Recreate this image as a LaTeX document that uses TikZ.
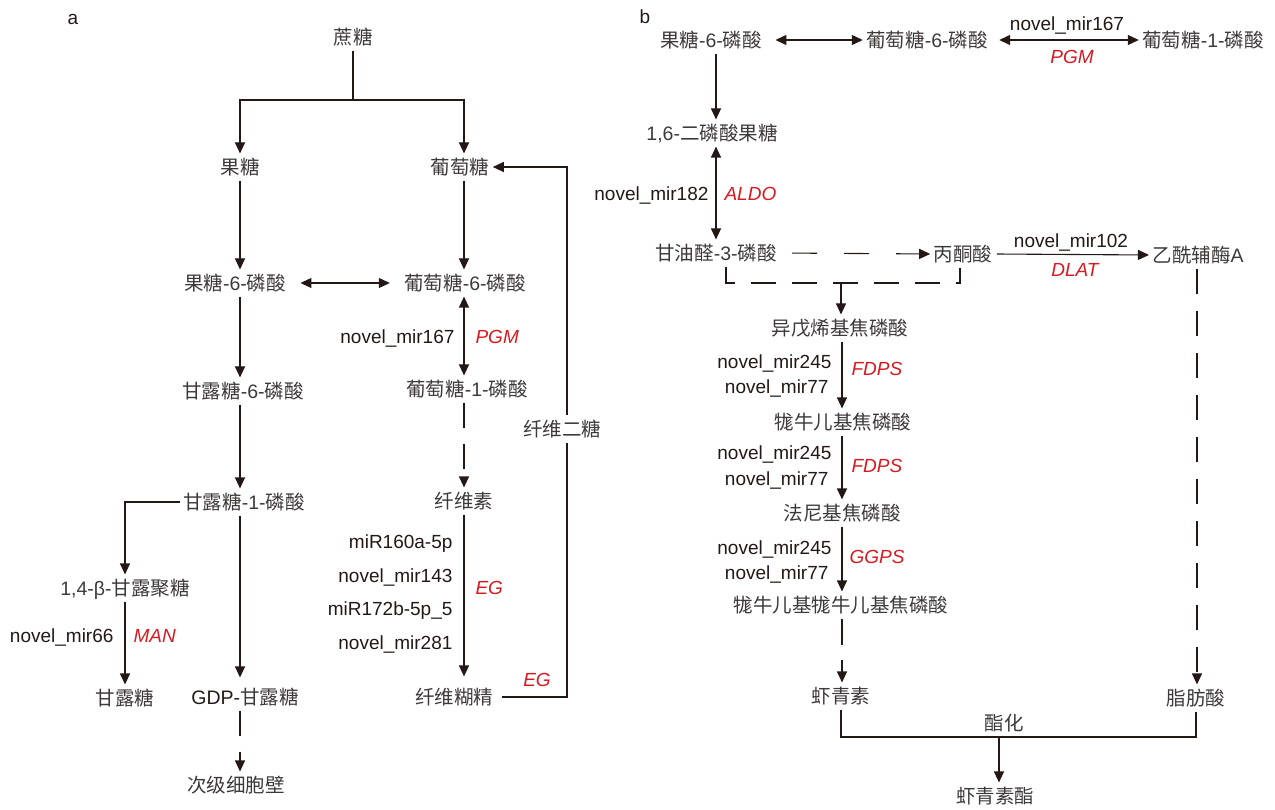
\documentclass[tikz,border=0pt]{standalone}
\usepackage{fontspec}
\setmainfont{Liberation Sans}
\newfontfamily\cjk{Noto Sans CJK SC}
\newfontfamily\latf{Liberation Sans}
\newcommand\lnum[1]{{\latf #1}}
\usetikzlibrary{arrows.meta}
\definecolor{ink}{RGB}{35,24,21}
\definecolor{cjkc}{RGB}{62,57,57}
\definecolor{enzc}{RGB}{215,25,32}
\tikzset{
  chem/.style={font=\cjk\fontsize{19.5}{21}\selectfont, text=cjkc, inner xsep=3pt, inner ysep=0pt, text height=20.4pt, text depth=5.6pt},
  mir/.style={font=\fontsize{19}{21}\selectfont, text=ink, inner sep=0pt, text height=15pt, text depth=2pt},
  enz/.style={font=\fontsize{19}{21}\selectfont\itshape, text=enzc, inner sep=0pt, text height=15pt, text depth=2pt},
  arr/.style={-{Triangle[length=11pt,width=10pt]}},
  darr/.style={{Triangle[length=11pt,width=10pt]}-{Triangle[length=11pt,width=10pt]}},
  dsh/.style={dash pattern=on 25pt off 16pt},
}
\begin{document}
\begin{tikzpicture}[x=1pt,y=-1pt,color=ink,line width=1.1pt]
\useasboundingbox (0,0) rectangle (1275,810);
% ---------- panel a ----------
\node[mir] (pa) at (73,18) {a};
\coordinate (colA) at (240,0);
\coordinate (colB) at (464,0);
\coordinate (colC) at (567,0);
\coordinate (j1) at (353,100);
\node[chem] (suc) at (353,37) {蔗糖};
\node[chem] (fru) at (240,167) {果糖};
\node[chem] (glc) at (460,167) {葡萄糖};
\node[chem] (f6p) at (235,283) {果糖\lnum{-6-}磷酸};
\node[chem] (g6p) at (465,283) {葡萄糖\lnum{-6-}磷酸};
\node[chem] (m6p) at (243,391) {甘露糖\lnum{-6-}磷酸};
\node[chem] (g1p) at (467,389) {葡萄糖\lnum{-1-}磷酸};
\node[chem] (cb) at (562,429) {纤维二糖};
\node[chem] (m1p) at (244,502) {甘露糖\lnum{-1-}磷酸};
\node[chem] (cel) at (464,501) {纤维素};
\node[chem] (mann) at (125,588) {\lnum{1,4-β-}甘露聚糖};
\node[chem] (man) at (125,698) {甘露糖};
\node[chem] (gdp) at (245,697) {\lnum{\color{ink}GDP-}甘露糖};
\node[chem] (dex) at (454,697) {纤维糊精};
\node[chem] (scw) at (236,785) {次级细胞壁};

\draw (suc.south) -- (j1);
\draw[arr] (j1) -| (fru.north -| colA);
\draw[arr] (j1) -| (glc.north -| colB);
\draw[arr] (fru.south -| colA) -- (f6p.north -| colA);
\draw[darr, shorten <=11pt, shorten >=11pt] (f6p.east) -- (g6p.west);
\draw[arr] (glc.south -| colB) -- (g6p.north -| colB);
\draw[darr] (g6p.south -| colB) -- (g1p.north -| colB);
\draw[arr, dsh] (g1p.south -| colB) -- (cel.north -| colB);
\draw[arr, shorten >=7pt] (cel.south -| colB) -- (dex.north -| colB);
\draw[shorten <=5pt] (dex.east) -| (cb.south -| colC);
\draw[arr] (cb.north -| colC) |- (glc.east);
\draw[arr] (f6p.south -| colA) -- (m6p.north -| colA);
\draw[arr] (m6p.south -| colA) -- (m1p.north -| colA);
\draw[arr] (m1p.west) -| (mann.north);
\draw[arr] (mann.south) -- (man.north);
\draw[arr, shorten >=6pt] (m1p.south -| colA) -- (gdp.north -| colA);
\draw[arr, dsh] (gdp.south -| colA) -- (scw.north -| colA);

\node[mir, anchor=east] (l1) at (455,337) {novel\_mir167};
\node[enz, anchor=west] (e1) at (475,337) {PGM};
\node[mir, anchor=east] (l2) at (453,542) {miR160a-5p};
\node[mir, anchor=east] (l3) at (453,576) {novel\_mir143};
\node[mir, anchor=east] (l4) at (453,609) {miR172b-5p\_5};
\node[mir, anchor=east] (l5) at (453,643) {novel\_mir281};
\node[enz, anchor=west] (e2) at (475,588) {EG};
\node[enz] (e3) at (537,680) {EG};
\node[mir, anchor=east] (l6) at (114,636) {novel\_mir66};
\node[enz, anchor=west] (e4) at (133,636) {MAN};

% ---------- panel b ----------
\node[mir] (pb) at (645,17) {b};
\coordinate (colD) at (716,0);
\coordinate (colE) at (842,0);
\coordinate (colF) at (1197,0);
\coordinate (brk) at (841,283);
\coordinate (j2) at (999,737);
\node[chem] (rf6p) at (711,40) {果糖\lnum{-6-}磷酸};
\node[chem] (rg6p) at (927,40) {葡萄糖\lnum{-6-}磷酸};
\node[chem] (rg1p) at (1203,40) {葡萄糖\lnum{-1-}磷酸};
\node[chem] (fbp) at (712,133) {\lnum{1,6-}二磷酸果糖};
\node[chem] (gap) at (716,253) {甘油醛\lnum{-3-}磷酸};
\node[chem] (pyr) at (963,254) {丙酮酸};
\node[chem] (acoa) at (1198,255) {乙酰辅酶\lnum{A}};
\node[chem] (ipp) at (840,328) {异戊烯基焦磷酸};
\node[chem] (gpp) at (843,422) {牻牛儿基焦磷酸};
\node[chem] (fpp) at (842,513) {法尼基焦磷酸};
\node[chem] (ggpp) at (841,605) {牻牛儿基牻牛儿基焦磷酸};
\node[chem] (axn) at (841,696) {虾青素};
\node[chem] (fa) at (1196,698) {脂肪酸};
\node[chem] (est) at (1004,723) {酯化};
\node[chem] (axe) at (995,796) {虾青素酯};

\draw[darr, shorten <=10pt] (rf6p.east) -- (rg6p.west);
\draw[darr, shorten <=8pt] (rg6p.east) -- (rg1p.west);
\draw[arr] (rf6p.south -| colD) -- (fbp.north -| colD);
\draw[darr] (fbp.south -| colD) -- (gap.north -| colD);
\draw[arr, dash pattern=on 25pt off 27pt, shorten <=12pt] (gap.east) -- (pyr.west);
\draw[arr, shorten <=1pt] (pyr.east) -- (acoa.west);
\draw[dsh] ([xshift=10pt]gap.south) |- (brk) -| ([xshift=-3pt]pyr.south);
\draw[arr] (brk) -- (ipp.north -| brk);
\draw[arr, dash pattern=on 25pt off 17pt] (acoa.south -| colF) -- (fa.north -| colF);
\draw[arr] (ipp.south -| colE) -- (gpp.north -| colE);
\draw[arr] (gpp.south -| colE) -- (fpp.north -| colE);
\draw[arr] (fpp.south -| colE) -- (ggpp.north -| colE);
\draw[arr, dash pattern=on 26pt off 15pt] (ggpp.south -| colE) -- (axn.north -| colE);
\draw (axn.south) |- (j2) -| (fa.south);
\draw[arr] (j2) -- (axe.north -| j2);

\node[mir] (r1) at (1067,24) {novel\_mir167};
\node[enz] (s1) at (1072,57) {PGM};
\node[mir, anchor=east] (r2) at (709,194) {novel\_mir182};
\node[enz, anchor=west] (s2) at (724,194) {ALDO};
\node[mir] (r3) at (1071,241) {novel\_mir102};
\node[enz] (s3) at (1075,270) {DLAT};
\node[mir, anchor=east] (r4) at (832,362) {novel\_mir245};
\node[mir, anchor=east] (r5) at (829,387) {novel\_mir77};
\node[enz, anchor=west] (s4) at (851,369) {FDPS};
\node[mir, anchor=east] (r6) at (832,453) {novel\_mir245};
\node[mir, anchor=east] (r7) at (829,479) {novel\_mir77};
\node[enz, anchor=west] (s5) at (851,466) {FDPS};
\node[mir, anchor=east] (r8) at (832,548) {novel\_mir245};
\node[mir, anchor=east] (r9) at (829,573) {novel\_mir77};
\node[enz, anchor=west] (s6) at (849,557) {GGPS};
\end{tikzpicture}
\end{document}
